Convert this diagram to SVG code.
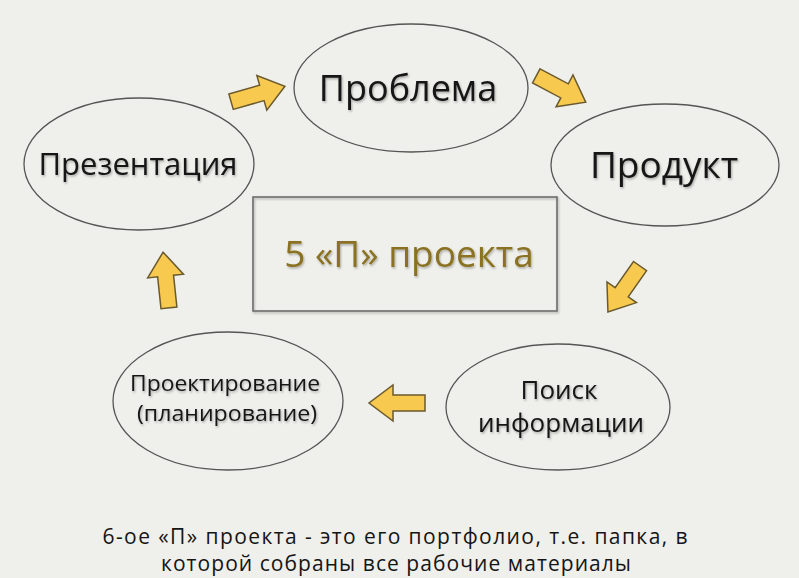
<svg xmlns="http://www.w3.org/2000/svg" width="799" height="578" viewBox="0 0 799 578">
  <style>
    .node { fill: none; stroke: #555; stroke-width: 1.3; }
    .lbl { font-family: "Open Sans", "Noto Sans", "DejaVu Sans", sans-serif; fill: #151515; text-anchor: middle; }
    .arrow { fill: #F7C94F; stroke: #6a5a2e; stroke-width: 1.5; stroke-linejoin: miter; }
  </style>
  <defs>
    <path id="blk" d="M-28,-8 L4,-8 L4,-18 L28,0 L4,18 L4,8 L-28,8 Z"/>
    <filter id="sh" x="-10%" y="-10%" width="120%" height="130%">
      <feDropShadow dx="1" dy="1.5" stdDeviation="1" flood-color="#000" flood-opacity="0.3"/>
    </filter>
  </defs>
  <rect width="799" height="578" fill="#efefeb"/>

  <g id="connectors">
    <use href="#blk" class="arrow" transform="translate(258,94) rotate(-16)"/>
    <use href="#blk" class="arrow" transform="translate(561,89) rotate(28)"/>
    <use href="#blk" class="arrow" transform="translate(624,289) rotate(125)"/>
    <use href="#blk" class="arrow" transform="translate(397,403) rotate(180)"/>
    <use href="#blk" class="arrow" transform="translate(166,280) rotate(-96)"/>
  </g>

  <g id="problema">
    <ellipse class="node" cx="411" cy="88" rx="117" ry="64"/>
    <text class="lbl" x="408" y="101" font-size="36" filter="url(#sh)">Проблема</text>
  </g>
  <g id="produkt">
    <ellipse class="node" cx="665" cy="165" rx="114" ry="61"/>
    <text class="lbl" x="664" y="178" font-size="37" filter="url(#sh)">Продукт</text>
  </g>
  <g id="prezentaciya">
    <ellipse class="node" cx="139" cy="164" rx="115" ry="66"/>
    <text class="lbl" x="138" y="175" font-size="31" filter="url(#sh)">Презентация</text>
  </g>
  <g id="poisk">
    <ellipse class="node" cx="558" cy="407" rx="112" ry="63"/>
    <text class="lbl" x="559" y="399" font-size="26" filter="url(#sh)">Поиск</text>
    <text class="lbl" x="561" y="432" font-size="26" filter="url(#sh)">информации</text>
  </g>
  <g id="proektirovanie">
    <ellipse class="node" cx="228" cy="401" rx="115" ry="69"/>
    <text class="lbl" x="225" y="391" font-size="22" textLength="190" lengthAdjust="spacingAndGlyphs" filter="url(#sh)">Проектирование</text>
    <text class="lbl" x="227" y="421" font-size="22" textLength="180" lengthAdjust="spacingAndGlyphs" filter="url(#sh)">(планирование)</text>
  </g>
  <g id="center">
    <rect x="253" y="197" width="304" height="114" fill="none" stroke="#666" stroke-width="1.5" filter="url(#sh)"/>
    <text class="lbl" x="409" y="267" font-size="37" style="fill:#8a7222" filter="url(#sh)">5 «П» проекта</text>
  </g>
  <g id="footer">
    <text class="lbl" x="395" y="544" font-size="21" textLength="585" lengthAdjust="spacing">6-ое «П» проекта - это его портфолио, т.е. папка, в</text>
    <text class="lbl" x="396" y="571" font-size="21" textLength="470" lengthAdjust="spacing">которой собраны все рабочие материалы</text>
  </g>
</svg>
